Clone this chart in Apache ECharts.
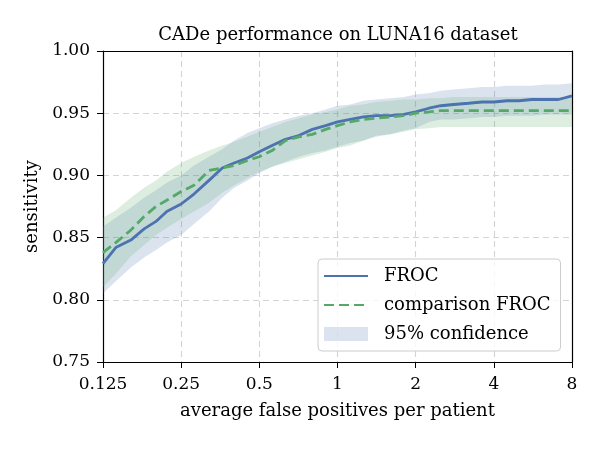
<!DOCTYPE html>
<html>
<head>
<meta charset="utf-8">
<script src="https://cdn.jsdelivr.net/npm/echarts@6/dist/echarts.min.js"></script>
<style>
  html, body { margin: 0; padding: 0; background: #fff; }
  #chart { width: 600px; height: 450px; }
</style>
</head>
<body>
<div id="chart"></div>
<script>
// average false positives per patient (log2 axis)
var fpRate = [0.125, 0.14, 0.16, 0.18, 0.2, 0.22, 0.25, 0.28, 0.32, 0.36, 0.4, 0.45, 0.5,
  0.56, 0.63, 0.71, 0.8, 0.9, 1, 1.12, 1.26, 1.41, 1.6, 1.8, 2, 2.25, 2.5, 2.8, 3.2,
  3.6, 4, 4.5, 5, 5.6, 6.3, 7.1, 8];

// FROC curve and its 95% band
var frocSens = [0.829, 0.842, 0.848, 0.857, 0.863, 0.871, 0.877, 0.885, 0.896, 0.906, 0.910, 0.914, 0.919,
  0.924, 0.929, 0.932, 0.937, 0.940, 0.943, 0.945, 0.947, 0.948, 0.948, 0.949, 0.951, 0.954, 0.956, 0.957, 0.958,
  0.959, 0.959, 0.960, 0.960, 0.961, 0.961, 0.961, 0.964];
var frocLower = [0.805, 0.815, 0.826, 0.834, 0.840, 0.846, 0.852, 0.861, 0.871, 0.882, 0.890, 0.896, 0.902,
  0.907, 0.911, 0.915, 0.918, 0.920, 0.923, 0.926, 0.928, 0.931, 0.933, 0.936, 0.938, 0.943, 0.945, 0.945, 0.946,
  0.947, 0.947, 0.948, 0.948, 0.948, 0.949, 0.949, 0.949];
var frocUpper = [0.859, 0.866, 0.874, 0.882, 0.888, 0.894, 0.900, 0.908, 0.915, 0.921, 0.928, 0.934, 0.938,
  0.942, 0.945, 0.948, 0.950, 0.953, 0.956, 0.957, 0.960, 0.961, 0.962, 0.963, 0.965, 0.966, 0.968, 0.969, 0.970,
  0.971, 0.971, 0.972, 0.972, 0.972, 0.973, 0.973, 0.974];

// comparison FROC and its band
var compSens = [0.838, 0.846, 0.856, 0.867, 0.875, 0.880, 0.887, 0.892, 0.904, 0.906, 0.908, 0.912, 0.915,
  0.920, 0.928, 0.931, 0.933, 0.937, 0.940, 0.943, 0.945, 0.946, 0.947, 0.948, 0.950, 0.951, 0.952, 0.952, 0.952,
  0.952, 0.952, 0.952, 0.952, 0.952, 0.952, 0.952, 0.952];
var compLower = [0.810, 0.821, 0.835, 0.844, 0.852, 0.858, 0.865, 0.871, 0.878, 0.886, 0.892, 0.898, 0.903,
  0.907, 0.910, 0.913, 0.916, 0.919, 0.922, 0.924, 0.928, 0.932, 0.933, 0.935, 0.937, 0.938, 0.939, 0.939, 0.939,
  0.939, 0.939, 0.939, 0.939, 0.939, 0.939, 0.939, 0.939];
var compUpper = [0.866, 0.872, 0.882, 0.890, 0.896, 0.903, 0.910, 0.915, 0.920, 0.924, 0.927, 0.931, 0.935,
  0.939, 0.943, 0.946, 0.949, 0.951, 0.953, 0.956, 0.957, 0.959, 0.960, 0.961, 0.961, 0.962, 0.962, 0.963, 0.963,
  0.963, 0.963, 0.963, 0.963, 0.963, 0.963, 0.963, 0.963];

var yTicks = [0.75, 0.80, 0.85, 0.90, 0.95, 1.00];

var blue = '#4c72b0';
var green = '#55a868';
var font = 'DejaVu Serif';
var gridLine = { show: true, lineStyle: { color: '#d4d4d4', type: [6, 4], width: 1.1 } };
var spine = { show: true, lineStyle: { color: '#000', width: 1.2 } };

function pairs(ys) {
  return fpRate.map(function (x, i) { return [x, ys[i]]; });
}

// confidence band drawn as one polygon: upper edge left->right, lower edge back
function band(name, lo, hi, color) {
  return {
    name: name, type: 'custom', silent: true, z: 1,
    itemStyle: { color: color },
    data: [[fpRate[0], lo[0]]],
    renderItem: function (params, api) {
      var pts = [];
      for (var i = 0; i < fpRate.length; i++) pts.push(api.coord([fpRate[i], hi[i]]));
      for (var j = fpRate.length - 1; j >= 0; j--) pts.push(api.coord([fpRate[j], lo[j]]));
      return { type: 'polygon', shape: { points: pts }, style: { fill: color } };
    }
  };
}

var chart = echarts.init(document.getElementById('chart'));
chart.setOption({
  animation: false,
  textStyle: { fontFamily: font },
  title: {
    text: 'CADe performance on LUNA16 dataset',
    left: 333, top: 21, textAlign: 'center',
    textStyle: { fontFamily: font, fontSize: 18, fontWeight: 'normal', color: '#000' }
  },
  grid: { left: 103, right: 28, top: 51, bottom: 88 },
  legend: {
    orient: 'vertical', left: 318, top: 259,
    padding: [8, 10, 8, 5], itemGap: 11, itemWidth: 44, itemHeight: 14,
    backgroundColor: 'rgba(255,255,255,0.8)', borderColor: '#cccccc', borderWidth: 1, borderRadius: 4,
    itemStyle: { opacity: 0 },
    textStyle: { fontFamily: font, fontSize: 18, color: '#000', padding: [0, 0, 0, 11] },
    data: [
      { name: 'FROC' },
      { name: 'comparison FROC' },
      { name: '95% confidence', icon: 'rect', itemStyle: { color: 'rgba(76,114,176,0.2)', opacity: 1 } }
    ]
  },
  xAxis: [{
    type: 'log', logBase: 2, min: 0.125, max: 8,
    name: 'average false positives per patient', nameLocation: 'middle', nameGap: 40,
    nameTextStyle: { fontFamily: font, fontSize: 18, color: '#000' },
    axisLine: spine,
    axisTick: { show: true, length: 6, lineStyle: { color: '#000', width: 1 } },
    axisLabel: {
      margin: 14, color: '#000', fontFamily: font, fontSize: 17,
      formatter: function (v) { return String(+v.toPrecision(6)); }
    },
    splitLine: gridLine,
    minorTick: { show: false }
  }, {
    type: 'value', position: 'top', min: 0, max: 1,
    axisLine: spine, axisTick: { show: false }, axisLabel: { show: false }, splitLine: { show: false }
  }],
  yAxis: [{
    type: 'value', min: yTicks[0], max: yTicks[yTicks.length - 1], interval: 0.05,
    name: 'sensitivity', nameLocation: 'middle', nameGap: 57, nameRotate: 90,
    nameTextStyle: { fontFamily: font, fontSize: 18, color: '#000' },
    axisLine: spine,
    axisTick: { show: true, length: 6, lineStyle: { color: '#000', width: 1 } },
    axisLabel: {
      margin: 13, color: '#000', fontFamily: font, fontSize: 17,
      formatter: function (v) { return v.toFixed(2); }
    },
    splitLine: gridLine
  }, {
    type: 'value', position: 'right', min: 0, max: 1,
    axisLine: spine, axisTick: { show: false }, axisLabel: { show: false }, splitLine: { show: false }
  }],
  series: [
    band('95% confidence', frocLower, frocUpper, 'rgba(76,114,176,0.2)'),
    band('comparison band', compLower, compUpper, 'rgba(85,168,104,0.2)'),
    {
      name: 'FROC', type: 'line', data: pairs(frocSens), symbol: 'none', z: 3,
      itemStyle: { color: blue },
      lineStyle: { color: blue, width: 2.8 }
    }, {
      name: 'comparison FROC', type: 'line', data: pairs(compSens), symbol: 'none', z: 4,
      itemStyle: { color: green },
      lineStyle: { color: green, width: 2.8, type: [10, 5] }
    }
  ]
});
</script>
</body>
</html>
